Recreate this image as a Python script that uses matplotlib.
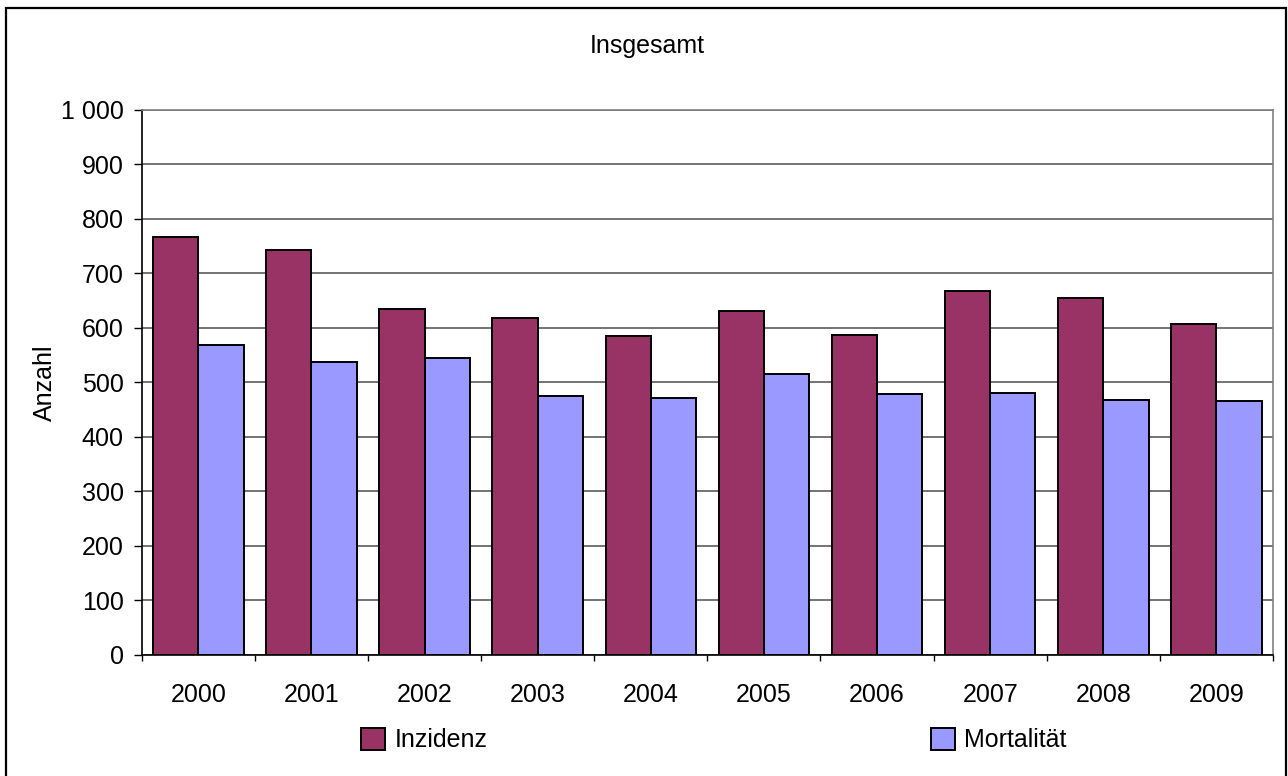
import numpy as np
import matplotlib.pyplot as plt
from matplotlib.patches import Rectangle
from matplotlib.ticker import FixedLocator, FixedFormatter

plt.rcParams['font.family'] = ['Liberation Sans', 'DejaVu Sans']

# Fallzahlen pro Jahr
jahre = ['2000', '2001', '2002', '2003', '2004', '2005', '2006', '2007', '2008', '2009']
inzidenz = [767, 742, 634, 617, 584, 630, 587, 668, 655, 606]
mortalitaet = [569, 537, 544, 474, 471, 515, 479, 480, 467, 465]

y_ticks = [0, 100, 200, 300, 400, 500, 600, 700, 800, 900, 1000]
y_labels = ['0', '100', '200', '300', '400', '500', '600', '700', '800', '900', '1 000']

col_inz = '#993366'
col_mort = '#9999FF'

W, H = 1288, 776
fig = plt.figure(figsize=(W / 100, H / 100), dpi=100)
ax = fig.add_axes([141.7 / W, 1 - 655 / H, (1273 - 141.7) / W, (655 - 109.5) / H])

x = np.arange(len(jahre))
b1 = ax.bar(x - 0.2, inzidenz, width=0.4, color=col_inz, edgecolor='black', linewidth=1.4,
            label='Inzidenz', zorder=3)
b2 = ax.bar(x + 0.2, mortalitaet, width=0.4, color=col_mort, edgecolor='black', linewidth=1.4,
            label='Mortalität', zorder=3)

ax.set_xlim(-0.5, len(jahre) - 0.5)
ax.set_ylim(0, 1000)

# y-Achse
ax.yaxis.set_major_locator(FixedLocator(y_ticks))
ax.yaxis.set_major_formatter(FixedFormatter(y_labels))
ax.tick_params(axis='y', length=6, width=1, pad=7, labelsize=18, colors='black')
ax.grid(axis='y', color='#4d4d4d', linewidth=1.1, zorder=0)

# x-Achse: Beschriftung mittig, Striche an den Kategoriegrenzen
ax.set_xticks(x)
ax.set_xticklabels(jahre)
ax.set_xticks(np.arange(len(jahre) + 1) - 0.5, minor=True)
ax.tick_params(axis='x', which='major', length=0, pad=20, labelsize=18)
ax.tick_params(axis='x', which='minor', length=4.5, width=1, color='black')

for s in ['left', 'bottom']:
    ax.spines[s].set_color('black')
    ax.spines[s].set_linewidth(1.2)
for s in ['top', 'right']:
    ax.spines[s].set_color('#808080')
    ax.spines[s].set_linewidth(1.2)

fig.text(45 / W, 1 - 383 / H, 'Anzahl', rotation=90, ha='center', va='center', fontsize=18)
fig.text(647 / W, 1 - 53 / H, 'Insgesamt', ha='center', va='baseline', fontsize=18)

leg = fig.legend(handles=[b1, b2], loc='center left', bbox_to_anchor=(361 / W, 1 - 740 / H),
                 ncol=2, frameon=False, fontsize=18, borderpad=0, borderaxespad=0,
                 handlelength=0.96, handleheight=0.96, handletextpad=0.4, columnspacing=17.7)

# Rahmen um das Diagramm
fig.patches.append(Rectangle((6 / W, -0.05), (1286 - 6) / W, 1.05 - 8 / H,
                             transform=fig.transFigure, fill=False, edgecolor='black',
                             linewidth=1.6))

fig.savefig('out.png', dpi=100)
